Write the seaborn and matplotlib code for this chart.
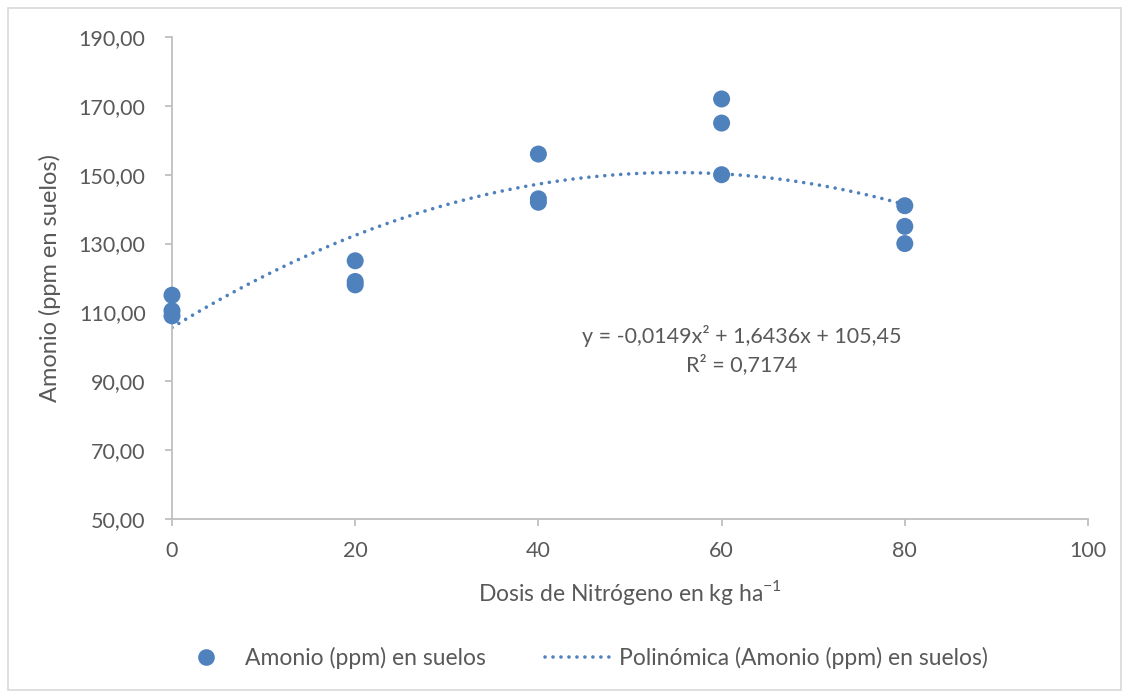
import numpy as np
import pandas as pd
import matplotlib.pyplot as plt
import seaborn as sns
from matplotlib.lines import Line2D
from matplotlib.patches import Rectangle
from matplotlib.ticker import FuncFormatter

# values
dosis = [0, 0, 0, 20, 20, 20, 40, 40, 40, 60, 60, 60, 80, 80, 80]
amonio = [115, 110.5, 109, 125, 119, 118, 156, 143, 142, 172, 165, 150, 141, 135, 130]
y_ticks = [50, 70, 90, 110, 130, 150, 170, 190]
x_ticks = [0, 20, 40, 60, 80, 100]
eq_text = "y = -0,0149x² + 1,6436x + 105,45\nR² = 0,7174"

BLUE = "#4F81BD"
GREY_TXT = "#595959"
GREY_LN = "#BFBFBF"

sns.set_style("white")
plt.rcParams['font.family'] = ['Lato', 'DejaVu Sans']
plt.rcParams['mathtext.fontset'] = 'custom'
plt.rcParams['mathtext.rm'] = 'Lato'

df = pd.DataFrame({'dosis': dosis, 'amonio': amonio})

fig = plt.figure(figsize=(11.29, 6.95), dpi=100)
ax = fig.add_axes([172/1129, 1 - 519/695, (1088-172)/1129, (519-37)/695])

sns.regplot(data=df, x='dosis', y='amonio', order=2, ci=None, scatter=False, ax=ax,
            line_kws=dict(color=BLUE, lw=2.6, ls=(0, (0.01, 2.2)), dash_capstyle='round'))
sns.scatterplot(data=df, x='dosis', y='amonio', ax=ax, s=150, color=BLUE,
                edgecolor='none', zorder=3, legend=False, clip_on=False)

ax.set_xlim(0, 100)
ax.set_ylim(50, 190)
ax.set_xticks(x_ticks)
ax.set_yticks(y_ticks)
ax.yaxis.set_major_formatter(FuncFormatter(lambda v, p: f"{v:.2f}".replace('.', ',')))
for s in ['top', 'right']:
    ax.spines[s].set_visible(False)
for s in ['left', 'bottom']:
    ax.spines[s].set_color(GREY_LN)
    ax.spines[s].set_linewidth(1.3)
ax.tick_params(axis='both', colors=GREY_LN, length=5, width=1.3, labelcolor=GREY_TXT,
               labelsize=15.5, bottom=True, left=True)
ax.tick_params(axis='y', pad=14)
ax.tick_params(axis='x', pad=11)
ax.set_xlabel(r"Dosis de Nitrógeno en kg ha$^{-1}$", color=GREY_TXT, fontsize=16.5, labelpad=12)
ax.set_ylabel("Amonio (ppm en suelos)", color=GREY_TXT, fontsize=17, labelpad=13)

ax.text(742/1129, 1 - 350/695, eq_text, transform=fig.transFigure, ha='center', va='center',
        color=GREY_TXT, fontsize=15.5, linespacing=1.45)

handles = [
    Line2D([], [], ls='none', marker='o', markersize=12, color=BLUE, markeredgewidth=0),
    Line2D([], [], color=BLUE, lw=2.6, ls=(0, (0.01, 2.2)), dash_capstyle='round'),
]
fig.legend(handles, ["Amonio (ppm) en suelos", "Polinómica (Amonio (ppm) en suelos)"],
           loc='center', bbox_to_anchor=(0.513, 1 - 658/695), ncol=2, frameon=False,
           handlelength=3.1, handletextpad=0.15, columnspacing=2.6,
           labelcolor=GREY_TXT, fontsize=16.5)

fig.patches.append(Rectangle((8/1129, 5/695), 1113/1129, 682/695, transform=fig.transFigure,
                             fill=False, edgecolor='#D9D9D9', lw=1.2))

fig.savefig('out.png', dpi=100)
